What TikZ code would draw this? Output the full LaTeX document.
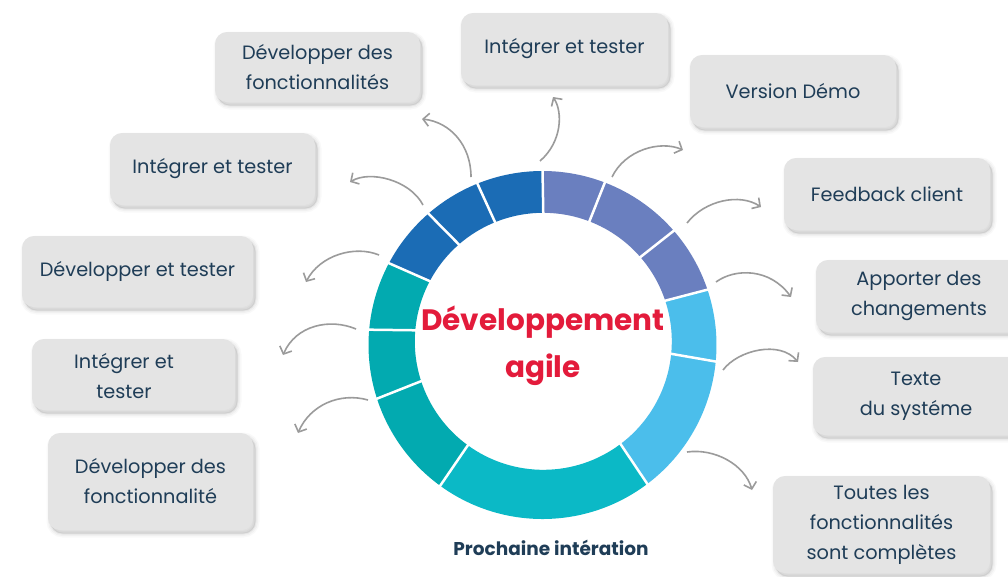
\documentclass[tikz,border=0pt]{standalone}
\usepackage{fontspec}
\setmainfont{Poppins}
\usetikzlibrary{arrows.meta,shadows,calc}
\definecolor{boxfill}{HTML}{E4E4E4}
\definecolor{txt}{HTML}{1F3D57}
\definecolor{lav}{HTML}{6A7FBF}
\definecolor{lblue}{HTML}{4BBEEB}
\definecolor{cyanS}{HTML}{0BB9C6}
\definecolor{tealS}{HTML}{02AAB0}
\definecolor{blueS}{HTML}{1B6CB5}
\definecolor{titlered}{HTML}{E31B3B}
\definecolor{arrowgray}{HTML}{9B9B9B}
\begin{document}
\begin{tikzpicture}[x=1pt,y=-1pt,
  softshadow/.style={
    general shadow={fill=black, draw=black, line width=8pt, opacity=0.022, shadow xshift=2.5pt, shadow yshift=-3.5pt},
    general shadow={fill=black, draw=black, line width=5pt, opacity=0.03, shadow xshift=2.5pt, shadow yshift=-3.5pt},
    general shadow={fill=black, draw=black, line width=2pt, opacity=0.045, shadow xshift=2.5pt, shadow yshift=-3.5pt}},
  box/.style={softshadow, fill=boxfill, rounded corners=12pt, inner sep=0pt,
    text=txt, align=center, font=\fontsize{19.3}{30}\selectfont},
  boxtext/.style={text=txt, align=center, font=\fontsize{19.3}{30}\selectfont, inner sep=0pt},
  arr/.style={draw=arrowgray, line width=1.6pt, -{Straight Barb[length=6pt,width=13pt]}}]
\useasboundingbox (0,0) rectangle (1008,576);
\clip (0,0) rectangle (1008,576);
\fill[white] (0,0) rectangle (1008,576);

% ring
\begin{scope}[shift={(542.5,345)}, y=1pt]
  \foreach \a/\b/\c in {90/69/lav, 69/41/lav, 41/18.5/lav, 18.5/-5.5/lblue, -5.5/-53/lblue,
      -53/-126/cyanS, -126/-162/tealS, -162/-185/tealS, -185/-208/tealS,
      -208/-229/blueS, -229/-248/blueS, -248/-270/blueS}
    \fill[\c] (\a:174) arc[start angle=\a, end angle=\b, radius=174]
      -- ($(0.8,3.7)+(\b:128.5)$) arc[start angle=\b, end angle=\a, radius=128.5] -- cycle;
  \foreach \a in {90,69,41,18.5,-5.5,-53,-126,-162,-185,-208,-229,-248}
    \draw[white, line width=2.5pt] ($(0.8,3.7)+(\a:126)$) -- (\a:176);
\end{scope}

\node[font=\fontsize{29.5}{47}\selectfont\bfseries, text=titlered, align=center, inner sep=0pt] (title) at (543,346) {Développement\\agile};
\node[font=\fontsize{18.5}{20}\selectfont\bfseries, text=txt, inner sep=0pt] (next) at (551,548) {Prochaine intération};

% boxes
\node[box, minimum width=205pt, minimum height=70pt] (b1) at (317.5,67) {Développer des\\fonctionnalités};
\node[box, minimum width=207pt, minimum height=72pt] (b2) at (564.5,49) {Intégrer et tester};
\node[box, minimum width=206pt, minimum height=72pt] (b3) at (793,91) {Version Démo};
\node[box, minimum width=206pt, minimum height=72pt] (b4) at (887,194) {Feedback client};
\node[box, minimum width=206pt, minimum height=72pt] (b5) at (919,296) {Apporter des\\changements};
\node[box, minimum width=206pt, minimum height=78pt] (b6) at (916,396) {Texte\\du systéme};
\node[box, minimum width=217pt, minimum height=97pt] (b7) at (881.5,524.5) {Toutes les\\fonctionnalités\\sont complètes};
\node[box, minimum width=205pt, minimum height=72pt] (b8) at (212.5,169) {Intégrer et tester};
\node[box, minimum width=231pt, minimum height=71pt] (b9) at (137.5,271.5) {Développer et tester};
\node[box, minimum width=203pt, minimum height=71pt] (b10) at (133.5,374.5) {};
\node[boxtext] (b10t) at (124,376) {Intégrer et\\tester};
\node[box, minimum width=205pt, minimum height=97pt] (b11) at (150.5,481.5) {Développer des\\fonctionnalité};

% arrows
\coordinate (s1) at (471,177);  \coordinate (e1) at (422,119);
\coordinate (s2) at (423,205);  \coordinate (e2) at (350,182);
\coordinate (s3) at (540,161);  \coordinate (e3) at (553,97);
\coordinate (s4) at (612,177);  \coordinate (e4) at (683,150);
\coordinate (s5) at (687,223);  \coordinate (e5) at (761,207);
\coordinate (s6) at (716,282);  \coordinate (e6) at (791,297);
\coordinate (s7) at (723,370);  \coordinate (e7) at (798,362);
\coordinate (s8) at (687,452);  \coordinate (e8) at (752,490);
\coordinate (s9) at (379,255);  \coordinate (e9) at (306,282);
\coordinate (s10) at (356,329); \coordinate (e10) at (283,355);
\coordinate (s11) at (368,400); \coordinate (e11) at (298,433);
\draw[arr] (s1) .. controls (471,145) and (450,122) .. (e1);
\draw[arr] (s2) .. controls (410,180) and (370,170) .. (e2);
\draw[arr] (s3) .. controls (562,142) and (563,112) .. (e3);
\draw[arr] (s4) .. controls (625,150) and (660,140) .. (e4);
\draw[arr] (s5) .. controls (705,200) and (740,193) .. (e5);
\draw[arr] (s6) .. controls (735,268) and (770,268) .. (e6);
\draw[arr] (s7) .. controls (738,350) and (780,340) .. (e7);
\draw[arr] (s8) .. controls (715,448) and (745,465) .. (e8);
\draw[arr] (s9) .. controls (355,245) and (320,255) .. (e9);
\draw[arr] (s10) .. controls (330,318) and (296,325) .. (e10);
\draw[arr] (s11) .. controls (340,392) and (310,405) .. (e11);
\end{tikzpicture}
\end{document}
